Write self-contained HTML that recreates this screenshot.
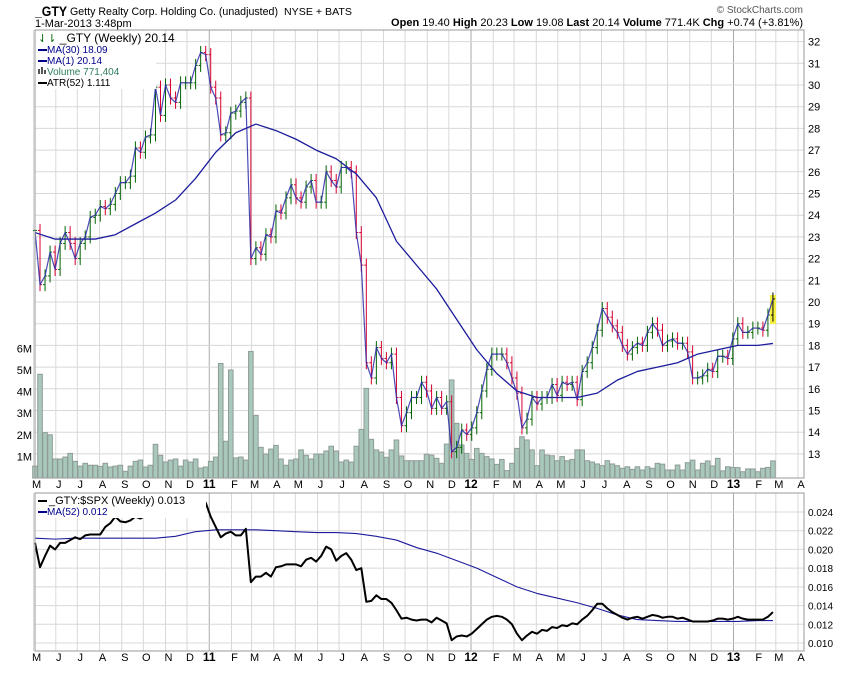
<!DOCTYPE html>
<html><head><meta charset="utf-8">
<style>
body{margin:0;background:#fff;width:850px;height:668px;overflow:hidden;font-family:"Liberation Sans",sans-serif;}
svg text{font-family:"Liberation Sans",sans-serif;}
</style></head>
<body>
<svg id="chart" width="850" height="668" viewBox="0 0 850 668" xmlns="http://www.w3.org/2000/svg">
<text x="35" y="16" font-size="14" font-weight="bold" textLength="32" lengthAdjust="spacingAndGlyphs">_GTY</text>
<text x="70" y="15" font-size="11" textLength="208" lengthAdjust="spacingAndGlyphs">Getty Realty Corp. Holding Co. (unadjusted)</text>
<text x="284" y="15" font-size="10" textLength="68" lengthAdjust="spacingAndGlyphs">NYSE + BATS</text>
<text x="803" y="13" font-size="10" fill="#555" text-anchor="end">© StockCharts.com</text>
<text x="35" y="27" font-size="11">1-Mar-2013 3:48pm</text>
<text x="803" y="26" font-size="11" text-anchor="end"><tspan font-weight="bold">Open</tspan> 19.40  <tspan font-weight="bold">High</tspan> 20.23  <tspan font-weight="bold">Low</tspan> 19.08  <tspan font-weight="bold">Last</tspan> 20.14  <tspan font-weight="bold">Volume</tspan> 771.4K  <tspan font-weight="bold">Chg</tspan> +0.74 (+3.81%)</text>
<g id="grid"></g>
<g id="vol"></g>
<g id="price"></g>
<g id="lower"></g>
<g id="axes"></g>
<rect x="35" y="30" width="769" height="448" fill="none" stroke="#999"/>
<rect x="35" y="493" width="769" height="158" fill="none" stroke="#999"/>
<g>
<rect x="36" y="31" width="120" height="58" fill="#fff"/>
<text x="38" y="42" font-size="11" fill="#060"><tspan>⇃⇂</tspan><tspan fill="#000" font-size="12"> _GTY (Weekly) 20.14</tspan></text>
<rect x="38" y="49" width="9" height="2" fill="#00008b"/><text x="47" y="53" font-size="10" fill="#00008b">MA(30) 18.09</text>
<rect x="38" y="60" width="9" height="2" fill="#00008b"/><text x="47" y="64" font-size="10" fill="#00008b">MA(1) 20.14</text>
<rect x="38" y="69" width="2" height="5" fill="#555"/><rect x="41" y="67" width="2" height="7" fill="#555"/><rect x="44" y="70" width="2" height="4" fill="#555"/><text x="47" y="75" font-size="10" fill="#2e7d5b">Volume 771,404</text>
<rect x="38" y="82" width="9" height="2" fill="#000"/><text x="47" y="86" font-size="10">ATR(52) 1.111</text>
</g>
<g>
<rect x="36" y="494" width="170" height="24" fill="#fff"/>
<rect x="38" y="500" width="9" height="2" fill="#000"/><text x="49" y="504" font-size="11">_GTY:$SPX (Weekly) 0.013</text>
<rect x="38" y="511" width="9" height="2" fill="#00008b"/><text x="47" y="515" font-size="10" fill="#00008b">MA(52) 0.012</text>
</g>
</svg>
<script>
const closes=[23.3,20.8,21.2,22.3,21.5,22.7,23.2,22.7,22.0,22.7,23.0,23.9,24.0,24.4,24.3,24.5,25.0,25.5,25.5,25.8,27.1,26.9,27.6,27.7,29.9,28.6,30.0,29.4,29.2,30.1,30.1,30.1,30.9,31.5,31.4,29.9,29.4,27.7,27.8,28.7,28.8,29.2,29.4,
22.0,22.5,22.2,23.1,23.0,24.2,24.1,24.8,25.4,24.8,24.6,25.3,25.6,24.6,24.6,26.0,25.6,25.3,26.2,26.2,26.0,23.2,21.7,17.2,16.5,17.9,17.4,17.2,17.6,15.6,14.3,14.9,15.6,15.6,16.3,15.9,15.1,15.6,15.1,15.4,
13.1,13.3,14.1,13.9,14.2,14.9,15.9,16.9,17.6,17.6,17.6,17.2,16.5,15.8,14.2,14.6,15.6,15.3,15.6,15.6,16.2,15.7,16.3,16.2,16.3,15.5,16.8,17.2,17.9,18.7,
19.7,19.3,18.9,18.6,18.0,17.6,17.9,18.1,
18.0,18.6,19.0,18.7,18.0,18.2,18.3,18.1,18.1,17.7,16.5,16.5,16.6,16.9,16.8,17.5,17.5,17.4,18.3,19.0,18.6,18.6,18.8,18.8,18.7,19.4,20.14];
const volumes=[0.55,4.8,2.1,2.0,0.88,0.88,0.97,1.14,0.77,0.55,0.68,0.59,0.59,0.54,0.68,0.51,0.55,0.59,0.31,0.55,0.77,0.83,0.51,0.59,1.56,1.05,0.74,0.83,0.88,0.55,0.83,0.74,0.88,0.46,0.51,0.77,0.97,5.3,1.7,5.0,0.93,0.97,0.83,5.86,2.9,1.42,1.11,1.34,1.51,0.88,0.59,0.83,0.88,1.30,1.05,0.88,1.11,1.11,1.25,1.47,1.25,0.74,0.83,0.74,1.47,2.25,4.15,1.79,1.30,1.20,0.96,1.30,1.76,1.02,0.80,0.80,0.80,
0.80,1.10,1.06,0.91,0.68,1.57,4.54,2.53,1.53,1.14,0.86,1.37,1.14,0.99,0.88,0.63,0.86,0.34,0.68,1.37,1.91,1.76,1.30,0.57,1.30,1.06,1.03,0.80,0.99,0.80,0.86,1.30,1.30,0.80,0.74,0.65,0.57,0.80,0.65,0.57,0.45,0.52,0.40,0.52,
0.37,0.52,0.45,0.68,0.64,0.37,0.37,0.60,0.37,0.71,0.83,0.37,0.68,0.79,0.56,0.91,0.33,0.52,0.49,0.48,0.29,0.42,0.42,0.29,0.45,0.49,0.79];
const ma30Idx=[0,4,8,12,16,20,24,28,32,36,40,44,48,52,56,60,64,68,72,76,80,84,88,92,96,100,104,108,112,116,120,124,128,132,136,140,144,147];
const ma30=[23.2,22.9,22.9,22.9,23.1,23.6,24.1,24.7,25.7,26.9,27.8,28.2,27.9,27.5,27.0,26.6,25.9,24.8,22.8,21.7,20.6,19.2,17.8,16.7,15.9,15.6,15.6,15.6,15.8,16.4,16.8,17.0,17.2,17.6,17.8,18.0,18.0,18.09];
const ratio=[.0207,.0181,.0193,.0204,.0200,.0207,.0207,.0210,.0213,.0211,.0215,.0216,.0216,.0216,.0224,.0228,.0235,.0230,.0229,.0231,.0235,.0233,.0236,.0236,.0254,.0248,.0250,.0250,.0248,.0249,.0248,.0247,.0251,.0251,.0250,.0235,.0224,.0213,.0217,.0219,.0215,.0215,.0222,
.0165,.0171,.0171,.0175,.0171,.0181,.0182,.0184,.0184,.0184,.0182,.0189,.0191,.0187,.0193,.0203,.0200,.0188,.0193,.0196,.0189,.0178,.0180,.0144,.0145,.0151,.0147,.0147,.0143,.0135,.0126,.0127,.0125,.0124,.0125,
.0125,.0122,.0127,.0124,.0121,.0103,
.0107,.0108,.0107,.0110,.0115,.0120,.0125,.0128,.0129,.0128,.0125,.0120,.0110,.0103,.0108,.0112,.0110,.0114,.0113,.0117,.0116,.0119,.0118,.0121,.0120,.0125,.0129,.0135,.0142,.0142,.0137,.0133,.0130,.0127,.0125,.0127,.0128,.0126,.0128,.0130,.0129,.0127,.0128,.0128,.0126,.0127,.0125,.0123,.0123,.0123,.0123,.0124,.0126,.0126,.0125,.0126,.0128,.0126,.0125,.0125,.0125,.0125,.0128,.0133];
const ma52=[.0212,.0211,.0212,.0212,.0212,.0212,.0212,.0214,.0219,.0221,.0221,.0221,.0220,.0219,.0218,.0218,.0217,.0214,.0210,.0202,.0196,.0188,.0180,.0170,.0160,.0153,.0148,.0143,.0137,.0130,.0125,.0124,.0123,.0123,.0123,.0123,.0124,.0124];
const priceTicks=[13,14,15,16,17,18,19,20,21,22,23,24,25,26,27,28,29,30,31,32];
const volTicks=[1,2,3,4,5,6];
const ratioTicks=[0.010,0.012,0.014,0.016,0.018,0.020,0.022,0.024];
const monthLabels=["M","J","J","A","S","O","N","D","11","F","M","A","M","J","J","A","S","O","N","D","12","F","M","A","M","J","J","A","S","O","N","D","13","F","M","A"];

const NS="http://www.w3.org/2000/svg";
const X0=35,STEP=5.02;
const xi=i=>X0+i*STEP;
const xDay=d=>X0+d/7*STEP;
const yP=p=>302-(p-20)*21.7;
const yV=v=>478-v*21.6;
const yR=v=>512+(0.024-v)*9357;
function mk(tag,attrs,parent){const e=document.createElementNS(NS,tag);for(const k in attrs)e.setAttribute(k,attrs[k]);parent.appendChild(e);return e;}
const grid=document.getElementById('grid'),volG=document.getElementById('vol'),priceG=document.getElementById('price'),lowG=document.getElementById('lower'),axG=document.getElementById('axes');

const start=new Date(2010,4,3);
for(let m=0;m<36;m++){
  const d=new Date(2010,4+m,1);
  const days=(d-start)/86400000;
  const x=xDay(days);
  const isYear=d.getMonth()===0;
  const l1=mk('line',{x1:x,x2:x,y1:30,y2:478,stroke:isYear?'#aaa':'#d8d8d8','stroke-width':1},grid);
  
  
  const l2=mk('line',{x1:x,x2:x,y1:493,y2:651,stroke:isYear?'#aaa':'#d8d8d8','stroke-width':1},grid);
  
  
  for(const yy of [488,661]){
    const t=mk('text',{x:isYear?x:x+3,y:yy,'font-size':isYear?12:11,'font-weight':isYear?'bold':'normal','text-anchor':'middle'},axG);
    t.textContent=monthLabels[m];
    
    
  }
}
priceTicks.forEach(p=>{
  const y=yP(p);
  const l=mk('line',{x1:35,x2:804,y1:y,y2:y,stroke:'#d8d8d8'},grid);
  
  
  const t=mk('text',{x:808,y:y+4,'font-size':11},axG);
  t.textContent=p;
  
  
});
volTicks.forEach(v=>{
  const y=yV(v);
  const t=mk('text',{x:32,y:y+4,'font-size':11,'text-anchor':'end'},axG);
  t.textContent=v+'M';
  
  
});
ratioTicks.forEach(v=>{
  const y=yR(v);
  const l=mk('line',{x1:35,x2:804,y1:y,y2:y,stroke:'#d8d8d8'},grid);
  
  
  const t=mk('text',{x:808,y:y+4,'font-size':10},axG);
  t.textContent=v.toFixed(3);
  
  
});
volumes.forEach((v,i)=>{
  const r=mk('rect',{x:xi(i)-2.3,y:yV(v),width:4.6,height:478-yV(v),fill:'#a9c8bc',stroke:'#8f9c96','stroke-width':1},volG);
  
  
});
const last=closes.length-1;
const hl=mk('rect',{x:xi(last)-3,y:yP(20.23)-2,width:6,height:yP(19.08)-yP(20.23)+4,fill:'#f5f040'},priceG);


closes.forEach((c,i)=>{
  const o=i>0?closes[i-1]:c;
  const hi=Math.max(o,c)+0.3,lo=Math.min(o,c)-0.3;
  const col=i===last?'#000':(c<o?'#d80030':'#006400');
  const x=xi(i);
  const g=mk('g',{stroke:col,'stroke-width':1},priceG);
  
  
  mk('line',{x1:x,x2:x,y1:yP(hi),y2:yP(lo)},g);
  mk('line',{x1:x-2,x2:x,y1:yP(o),y2:yP(o)},g);
  mk('line',{x1:x,x2:x+2,y1:yP(c),y2:yP(c)},g);
});
const ma30Line=mk('polyline',{points:ma30.map((v,k)=>xi(ma30Idx[k])+','+yP(v)).join(' '),fill:'none',stroke:'#1c1c9c','stroke-width':1.3,'stroke-linejoin':'round'},priceG);


const ma1Line=mk('polyline',{points:closes.map((v,i)=>xi(i)+','+yP(v)).join(' '),fill:'none',stroke:'#2a2aa8','stroke-width':1.2,'stroke-opacity':0.85},priceG);


const m52=mk('polyline',{points:ma52.map((v,k)=>xi(ma30Idx[k])+','+yR(v)).join(' '),fill:'none',stroke:'#1c1c9c','stroke-width':1.1,'stroke-linejoin':'round'},lowG);


const rl=mk('polyline',{points:ratio.map((v,i)=>xi(i)+','+yR(v)).join(' '),fill:'none',stroke:'#000','stroke-width':2,'stroke-linejoin':'round'},lowG);


</script>
</body></html>
